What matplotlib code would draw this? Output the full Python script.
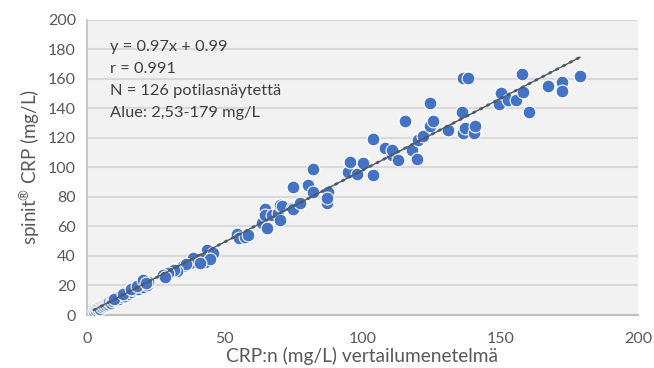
import matplotlib.pyplot as plt
import numpy as np

plt.rcParams['font.family'] = ['Lato', 'DejaVu Sans']
plt.rcParams['mathtext.fontset'] = 'custom'
plt.rcParams['mathtext.rm'] = 'Lato'
plt.rcParams['mathtext.it'] = 'Lato'

# reference method (x) vs spinit CRP (y), mg/L
ref_crp = [
    2.53, 2.9, 3.2, 3.5, 3.9, 4.2, 4.6, 5.0, 5.3, 5.7,
    6.1, 6.4, 6.9, 7.3, 7.7, 8.1, 8.6, 9.0, 9.5, 10.0,
    10.4, 11.0, 11.5, 12.1, 12.6, 13.2, 13.8, 14.3, 14.9, 15.4,
    16.0, 16.6, 17.2, 17.9, 18.5, 19.1, 19.8, 20.4, 21.0, 21.7,
    22.3, 9.8, 12.9, 15.8, 18.2, 20.2,
    21.6, 28.9, 31.3, 35.6, 37.4, 42.8, 43.4, 45.8, 42.2, 44.6,
    38.6, 41.0, 35.0, 36.0, 32.6, 31.5, 29.5, 27.7, 28.5,
    54.3, 55.3, 57.4, 58.6, 63.4, 65.2, 64.6, 64.6, 67.0, 69.4,
    70.0, 70.0, 70.7, 74.3, 74.9, 74.9, 77.3, 80.3, 82.2, 82.2,
    87.6, 87.0, 87.0,
    94.9, 95.5, 97.9, 100.1, 103.9, 103.9, 108.2, 110.6, 110.6, 113.0,
    115.4, 117.8, 119.9, 120.3, 122.1, 124.5, 124.5, 125.7, 131.1, 136.0,
    136.4, 138.4, 136.6, 137.2, 140.5, 140.8,
    149.5, 150.3, 152.9, 155.7, 157.8, 158.4, 160.5, 167.5, 172.5, 172.5,
    178.9,
]
spinit_crp = [
    2.6, 3.9, 3.1, 4.6, 3.8, 5.3, 4.4, 6.0, 5.2, 6.6,
    5.9, 7.4, 6.8, 8.1, 7.6, 8.9, 8.2, 9.9, 9.3, 10.8,
    10.2, 11.9, 11.1, 13.0, 12.2, 14.3, 13.2, 15.6, 14.4, 16.4,
    15.5, 17.3, 16.6, 18.9, 17.8, 19.4, 20.6, 19.3, 22.4, 20.6,
    22.3, 10.6, 14.1, 17.4, 19.6, 23.5,
    21.5, 28.3, 30.5, 33.9, 35.0, 36.1, 44.1, 41.8, 38.4, 37.7,
    38.4, 35.0, 33.5, 34.5, 30.0, 30.8, 28.3, 27.1, 26.0,
    54.9, 52.0, 53.1, 54.2, 62.2, 58.8, 71.7, 67.8, 67.8, 68.9,
    64.4, 74.6, 74.1, 72.3, 87.0, 71.9, 76.1, 88.1, 99.0, 83.6,
    83.6, 75.7, 79.1,
    96.7, 103.5, 95.6, 102.8, 119.1, 94.9, 113.4, 108.5, 111.9, 105.1,
    131.5, 111.9, 105.6, 118.6, 121.4, 143.9, 128.1, 131.1, 125.0, 137.2,
    160.5, 160.5, 123.6, 126.6, 123.2, 128.1,
    143.0, 150.5, 145.3, 145.3, 163.0, 151.2, 137.2, 155.3, 157.5, 151.6,
    161.6,
]

slope, intercept = 0.97, 0.99
stats_text = ["y = 0.97x + 0.99", "r = 0.991",
              "N = 126 potilasnäytettä", "Alue: 2,53-179 mg/L"]

fig = plt.figure(figsize=(6.54, 3.68), dpi=100)
ax = fig.add_axes([0.133, 0.144, 0.8425, 0.8025])
ax.set_facecolor('#F2F2F2')

ax.scatter(ref_crp, spinit_crp, s=85, color='#4472C4', edgecolors='white',
           linewidths=0.8, zorder=3)

# linear trendline over the measured range
xs = np.array([min(ref_crp), max(ref_crp)])
ax.plot(xs, slope * xs + intercept, color='#595959', lw=1.0, zorder=4)
ax.plot(xs, slope * xs + intercept, color='#4A5A75', lw=2.0,
        linestyle=(0, (0.6, 2.2)), dash_capstyle='round', zorder=4)

ax.set_xlim(0, 200)
ax.set_ylim(0, 200)
ax.set_xticks([0, 50, 100, 150, 200])
ax.set_yticks(range(0, 201, 20))
ax.yaxis.grid(True, color='#D9D9D9', lw=1.5)
ax.set_axisbelow(True)
ax.tick_params(length=0, labelsize=11.5, colors='#595959', pad=8)
ax.tick_params(axis='x', pad=12)

for side in ['top', 'right']:
    ax.spines[side].set_visible(False)
ax.spines['left'].set_color('#BFBFBF')
ax.spines['bottom'].set_color('#BFBFBF')
ax.spines['left'].set_linewidth(1.2)
ax.spines['bottom'].set_linewidth(1.5)

ax.set_xlabel('CRP:n (mg/L) vertailumenetelmä', fontsize=13.8, color='#595959',
              labelpad=1)
ax.set_ylabel('spinit$^{\u00ae}$ CRP (mg/L)', fontsize=13.5, color='#595959',
              labelpad=4)

for i, line in enumerate(stats_text):
    ax.text(0.042, 0.908 - i * 0.0745, line, transform=ax.transAxes,
            fontsize=11.8, color='#404040', va='center')

fig.savefig('out.png', dpi=100)
